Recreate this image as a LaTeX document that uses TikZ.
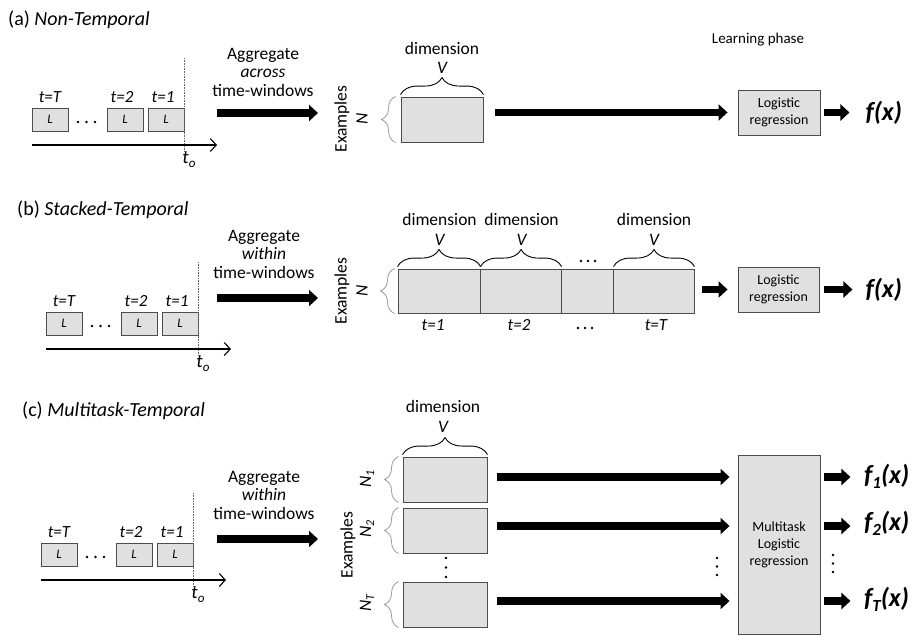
\documentclass[tikz,border=0pt]{standalone}
\usepackage{fontspec}
\setmainfont{Carlito}
\usetikzlibrary{arrows.meta,decorations.pathreplacing}
\newcommand\setfs[2]{\fontsize{#1}{#2}\selectfont}
\tikzset{
 gbox/.style={draw=black!70, fill=black!12, line width=0.9pt, inner sep=0pt},
 tbox/.style={gbox, minimum width=36pt, minimum height=23pt, font=\setfs{13}{14}\itshape},
 tlab/.style={font=\setfs{17}{19}\itshape, inner sep=0pt},
 txt/.style={font=\setfs{17.5}{18.5}, align=center, inner sep=0pt},
 itxt/.style={font=\setfs{17.5}{18.5}\itshape, inner sep=0pt},
 smalltxt/.style={font=\setfs{14}{17}, align=center, inner sep=0pt},
 ttl/.style={font=\setfs{20}{22}, anchor=west, inner sep=0pt},
 fx/.style={font=\setfs{26}{28}\bfseries\itshape, anchor=west, inner sep=0pt},
 bigarrow/.style={line width=7.5pt, -{Triangle[length=9pt,width=16pt]}},
 axisarrow/.style={line width=1.1pt, -{Straight Barb[length=6pt,width=13pt]}},
 dotline/.style={densely dotted, black!60, line width=0.6pt},
 topbrace/.style={decorate, decoration={brace, amplitude=17pt}, line width=0.9pt},
 sidebrace/.style={decorate, decoration={brace, amplitude=14pt}, draw=black!40, line width=0.8pt},
}
\newcommand\timeline[3]{%
 \begin{scope}[shift={(#2,#3)}]
  \node[tbox] (#1bT) at (18,11.5) {L};
  \node[tbox] (#1b2) at (93,11.5) {L};
  \node[tbox] (#1b1) at (134,11.5) {L};
  \node[tlab] (#1lT) at (18,-11) {t=T};
  \node[tlab] (#1l2) at (90,-11) {t=2};
  \node[tlab] (#1l1) at (131,-11) {t=1};
  \foreach \d in {0,1,2} \fill (46+\d*8.5,14) circle (1.3pt);
  \coordinate (#1top) at (152,-50);
  \coordinate (#1bot) at (152,44);
  \draw[dotline] (#1top) -- (#1bot);
  \coordinate (#1ax0) at (0,37);
  \coordinate (#1ax1) at (185,37);
  \draw[axisarrow] (#1ax0) -- (#1ax1);
  \node[tlab, font=\setfs{19}{20}\itshape] (#1to) at (157,52) {t\raisebox{-4pt}{\setfs{13}{13}o}};
 \end{scope}}
\begin{document}
\begin{tikzpicture}[x=1pt,y=-1pt]
\useasboundingbox (0,0) rectangle (917,635);
\fill[white] (0,0) rectangle (917,635);

% ---------------- (a)
\node[ttl] (ta) at (8,20) {(a) \textit{Non-Temporal}};
\timeline{a}{32}{108}
\node[txt] (agA) at (263,72) {Aggregate\\\textit{across}\\time-windows};
\coordinate (aS) at (217,113);
\coordinate (aE) at (318,113);
\draw[bigarrow] (aS) -- (aE);

\node[gbox, minimum width=82pt, minimum height=45pt] (mA) at (442,119.5) {};
\draw[topbrace] ([yshift=2pt]mA.north west) -- ([yshift=2pt]mA.north east);
\node[itxt] (vA) at (442,68) {V};
\node[txt] (dA) at (442,48) {dimension};
\draw[sidebrace] ([xshift=-5pt]mA.south west) -- ([xshift=-5pt]mA.north west);
\node[txt, rotate=90] (exA) at (342,119) {Examples};
\node[itxt, rotate=90] (nA) at (362,119) {N};

\node[gbox, smalltxt, minimum width=82pt, minimum height=45pt] (LA) at (779,112.5) {Logistic\\regression};
\node[smalltxt, font=\setfs{15}{17}] (lp) at (758,40) {Learning phase};
\draw[bigarrow] ([xshift=12pt]mA.east |- LA.west) -- ([xshift=-10pt]LA.west);
\draw[bigarrow] ([xshift=4pt]LA.east) -- ([xshift=29pt]LA.east);
\node[fx] (fA) at ([xshift=45pt]LA.east) {f(x)};

% ---------------- (b)
\node[ttl] (tb) at (17,210) {(b) \textit{Stacked-Temporal}};
\timeline{b}{46}{312}
\node[txt] (agB) at (264,254) {Aggregate\\\textit{within}\\time-windows};
\coordinate (bS) at (217,298);
\coordinate (bE) at (318,298);
\draw[bigarrow] (bS) -- (bE);

\node[gbox, minimum width=296pt, minimum height=44pt] (mB) at (546,291) {};
\foreach \s in {83,164,216}
  \draw[black!70, line width=0.8pt] ([xshift=\s pt]mB.north west) -- ([xshift=\s pt]mB.south west);
\draw[topbrace] ([yshift=2pt]mB.north west) -- ([xshift=83pt,yshift=2pt]mB.north west);
\draw[topbrace] ([xshift=83pt,yshift=2pt]mB.north west) -- ([xshift=164pt,yshift=2pt]mB.north west);
\draw[topbrace] ([xshift=216pt,yshift=2pt]mB.north west) -- ([yshift=2pt]mB.north east);
\node[txt] (dB1) at (439.5,219) {dimension};
\node[txt] (dB2) at (521.5,219) {dimension};
\node[txt] (dB3) at (654,219) {dimension};
\node[itxt] (vB1) at (439.5,240) {V};
\node[itxt] (vB2) at (521.5,240) {V};
\node[itxt] (vB3) at (654,240) {V};
\foreach \d in {-1,0,1} \fill (588+\d*7,261) circle (1.3pt);
\node[tlab] (tB1) at (433,325) {t=1};
\node[tlab] (tB2) at (519,325) {t=2};
\node[tlab] (tBT) at (656,325) {t=T};
\foreach \d in {-1,0,1} \fill (585+\d*7,328) circle (1.3pt);
\draw[sidebrace] ([xshift=-3pt]mB.south west) -- ([xshift=-3pt]mB.north west);
\node[txt, rotate=90] (exB) at (342,291) {Examples};
\node[itxt, rotate=90] (nB) at (362,291) {N};

\node[gbox, smalltxt, minimum width=81pt, minimum height=45pt] (LB) at (778.5,289.5) {Logistic\\regression};
\draw[bigarrow] ([xshift=8pt]mB.east |- LB.west) -- ([xshift=-10pt]LB.west);
\draw[bigarrow] ([xshift=5pt]LB.east) -- ([xshift=33pt]LB.east);
\node[fx] (fB) at ([xshift=46pt]LB.east) {f(x)};

% ---------------- (c)
\node[ttl] (tc) at (22,411) {(c) \textit{Multitask-Temporal}};
\timeline{c}{41}{543}
\node[txt] (agC) at (264,495) {Aggregate\\\textit{within}\\time-windows};
\coordinate (cS) at (217,539);
\coordinate (cE) at (318,539);
\draw[bigarrow] (cS) -- (cE);

\node[gbox, minimum width=84pt, minimum height=45pt] (c1) at (445,479.5) {};
\node[gbox, minimum width=84pt, minimum height=45pt] (c2) at (445,530.5) {};
\node[gbox, minimum width=84pt, minimum height=45pt] (cT) at (445,604.5) {};
\draw[topbrace] ([yshift=2pt]c1.north west) -- ([yshift=2pt]c1.north east);
\node[itxt] (vC) at (443,427) {V};
\node[txt] (dC) at (443,406) {dimension};
\foreach \d in {0,1,2} \fill (446,558+\d*9.5) circle (1.3pt);
\draw[sidebrace] ([xshift=-4pt]c1.south west) -- ([xshift=-4pt]c1.north west);
\draw[sidebrace] ([xshift=-4pt]c2.south west) -- ([xshift=-4pt]c2.north west);
\draw[sidebrace] ([xshift=-4pt]cT.south west) -- ([xshift=-4pt]cT.north west);
\node[itxt, rotate=90] (n1) at (367,479) {N\raisebox{-3pt}{\setfs{12}{12}1}};
\node[itxt, rotate=90] (n2) at (367,529) {N\raisebox{-3pt}{\setfs{12}{12}2}};
\node[itxt, rotate=90] (nT) at (367,603) {N\raisebox{-3pt}{\setfs{12}{12}T}};
\node[txt, rotate=90] (exC) at (348,545) {Examples};

\node[gbox, smalltxt, minimum width=82pt, minimum height=179pt] (MT) at (779,544.5) {Multitask\\Logistic\\regression};
\coordinate (r1) at (497,477);
\coordinate (r2) at (497,526);
\coordinate (r3) at (497,601);
\draw[bigarrow] (r1) -- ([xshift=-8pt]MT.west |- r1);
\draw[bigarrow] (r2) -- ([xshift=-8pt]MT.west |- r2);
\draw[bigarrow] (r3) -- ([xshift=-8pt]MT.west |- r3);
\foreach \d in {0,1,2} \fill (717,558+\d*8.5) circle (1.3pt);
\draw[bigarrow] ([xshift=4pt]MT.east |- r1) -- ([xshift=30pt]MT.east |- r1);
\draw[bigarrow] ([xshift=4pt]MT.east |- r2) -- ([xshift=30pt]MT.east |- r2);
\draw[bigarrow] ([xshift=4pt]MT.east |- r3) -- ([xshift=30pt]MT.east |- r3);
\foreach \d in {0,1,2} \fill (833,555+\d*8.5) circle (1.3pt);
\node[fx] (f1) at (864,476) {f\raisebox{-5pt}{\setfs{17}{17}1}(x)};
\node[fx] (f2) at (864,523) {f\raisebox{-5pt}{\setfs{17}{17}2}(x)};
\node[fx] (fT) at (864,599) {f\raisebox{-5pt}{\setfs{17}{17}T}(x)};
\end{tikzpicture}
\end{document}
